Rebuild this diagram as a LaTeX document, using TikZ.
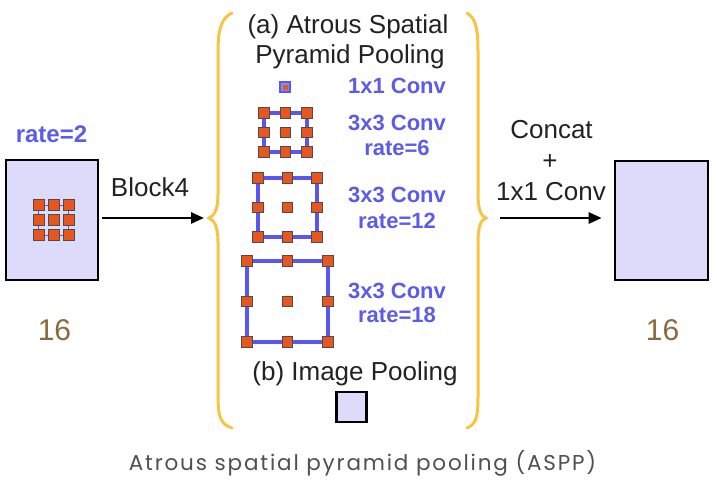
\documentclass[tikz,border=0pt]{standalone}
\usepackage{fontspec}
\setmainfont{Liberation Sans}
\newfontfamily\capfont[LetterSpace=8.5]{Poppins}
\usetikzlibrary{arrows.meta}
\definecolor{lav}{RGB}{220,220,250}
\definecolor{kblue}{RGB}{88,88,240}
\definecolor{tblue}{RGB}{92,92,235}
\definecolor{kor}{RGB}{232,86,30}
\definecolor{brn}{RGB}{140,106,60}
\definecolor{brace}{RGB}{247,196,68}
\definecolor{txt}{RGB}{34,34,34}
\definecolor{capc}{RGB}{80,80,80}
\tikzset{
  fmap/.style={draw=black, line width=2.6pt, fill=lav},
  kern/.style={draw=kblue, line width=3.2pt},
  dot/.style={draw=black!70, line width=0.6pt, fill=kor, minimum size=10.5pt, inner sep=0pt, outer sep=0pt},
  btxt/.style={text=txt, font=\fontsize{26}{30}\selectfont, anchor=base, inner sep=0pt},
  bluetxt/.style={text=tblue, font=\bfseries\fontsize{22}{26}\selectfont, anchor=base, inner sep=0pt},
  numtxt/.style={text=brn, font=\fontsize{30}{34}\selectfont, anchor=base, inner sep=0pt},
  arr/.style={line width=2.6pt, -{Triangle[length=13pt,width=11pt]}},
  bracestyle/.style={draw=brace, line width=3pt, line cap=round}
}
\newcommand{\kgrid}[4]{% x1,y1,x2,y2
  \pgfmathsetmacro{\kmx}{(#1+#3)/2}
  \pgfmathsetmacro{\kmy}{(#2+#4)/2}
  \draw[kern] (#1,#2) rectangle (#3,#4);
  \foreach \xx in {#1,\kmx,#3}{
    \foreach \yy in {#2,\kmy,#4}{
      \node[dot] at (\xx,\yy) {};
    }
  }
}
\begin{document}
\begin{tikzpicture}[x=1pt,y=-1pt]
\useasboundingbox[fill=white] (0,0) rectangle (717,485);

% left feature map
\node[fmap, minimum width=92pt, minimum height=120pt, inner sep=0pt] (inmap) at (52,220) {};
\draw[kern, line width=1pt] (38.5,205) rectangle (68.5,235);
\foreach \xx in {38.5,53.5,68.5}{
  \foreach \yy in {205,220,235}{
    \node[dot, minimum size=11pt] at (\xx,\yy) {};
  }
}
\node[bluetxt, font=\bfseries\fontsize{24}{28}\selectfont] (rate2) at (51.5,142) {rate=2};
\node[numtxt] (n16a) at (54.5,340) {16};

% Block4 arrow
\coordinate (a1e) at (204,218);
\draw[arr] ([xshift=3pt]inmap.east |- a1e) coordinate (a1s) -- (a1e);
\node[btxt] (blk) at (150,196) {Block4};

% braces
\draw[bracestyle] (232,13) .. controls (221,18) and (218,30) .. (218,52) -- (218,194)
  .. controls (218,210) and (214,216) .. (209,218)
  .. controls (214,220) and (218,226) .. (218,242) -- (218,396)
  .. controls (218,418) and (221,424) .. (232,428);
\draw[bracestyle] (467,13) .. controls (476,18) and (478,30) .. (478,52) -- (478,194)
  .. controls (478,210) and (481,216) .. (486,218)
  .. controls (481,220) and (478,226) .. (478,242) -- (478,396)
  .. controls (478,418) and (476,424) .. (467,428);

% titles
\node[btxt] (ta) at (348,33) {(a) Atrous Spatial};
\node[btxt] (tb) at (350,63) {Pyramid Pooling};

% 1x1 conv
\node[draw=kblue, fill=kblue!70, line width=1.5pt, minimum size=10pt, inner sep=0pt] (k1) at (285,87) {};
\node[fill=kor, minimum size=5pt, inner sep=0pt] at (k1) {};
\node[bluetxt] (l1) at (397,93) {1x1 Conv};

% rate 6
\kgrid{264}{113}{307}{152}
\node[bluetxt] (l6a) at (397,130) {3x3 Conv};
\node[bluetxt] (l6b) at (397,155) {rate=6};

% rate 12
\kgrid{258}{178}{317}{237}
\node[bluetxt] (l12a) at (397,202) {3x3 Conv};
\node[bluetxt] (l12b) at (397,228) {rate=12};

% rate 18
\kgrid{247}{261}{328}{342}
\node[bluetxt] (l18a) at (397,298) {3x3 Conv};
\node[bluetxt] (l18b) at (397,322) {rate=18};

% image pooling
\node[btxt] (tip) at (355,380) {(b) Image Pooling};
\node[fmap, line width=2.4pt, minimum width=30pt, minimum height=30pt, inner sep=0pt] (pool) at (351.5,407) {};

% output
\coordinate (a2s) at (500,218);
\node[fmap, minimum width=93pt, minimum height=119pt, inner sep=0pt] (outmap) at (661.5,220.5) {};
\draw[arr] (a2s) -- ([xshift=-12pt]outmap.west |- a2s) coordinate (a2e);
\node[btxt] (c1) at (551.5,138) {Concat};
\node[btxt] (c2) at (550,169) {+};
\node[btxt] (c3) at (551,200) {1x1 Conv};
\node[numtxt] (n16b) at (662.5,340) {16};

% caption
\node[text=capc, font=\capfont\fontsize{21.5}{24}\selectfont, anchor=base, inner sep=0pt] (cap) at (362.5,470) {Atrous spatial pyramid pooling (ASPP)};
\end{tikzpicture}
\end{document}
